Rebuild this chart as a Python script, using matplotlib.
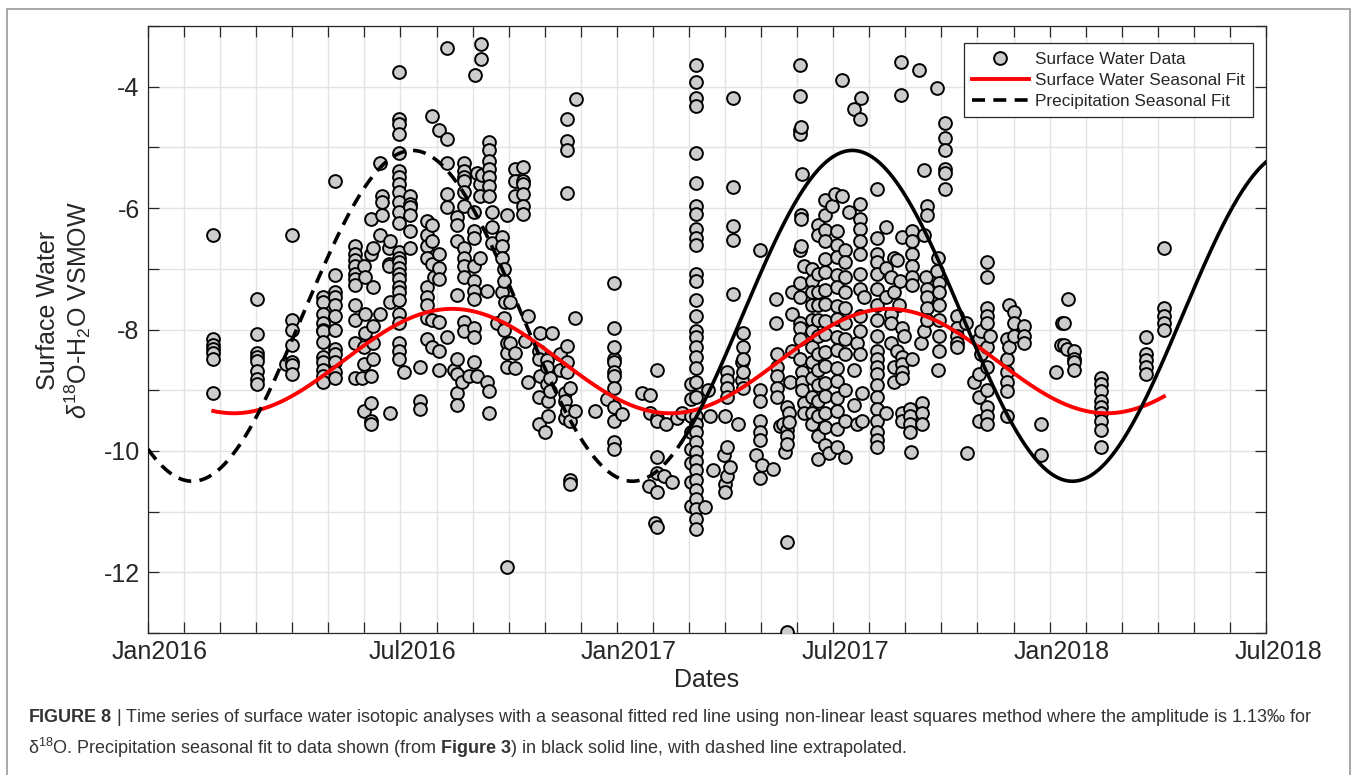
import numpy as np
import matplotlib.pyplot as plt
from matplotlib.patches import Rectangle
from matplotlib.transforms import ScaledTranslation

plt.rcParams['font.family'] = ['Liberation Sans', 'DejaVu Sans']
plt.rcParams['mathtext.fontset'] = 'custom'
plt.rcParams['mathtext.rm'] = 'Liberation Sans'
plt.rcParams['mathtext.it'] = 'Liberation Sans:italic'
plt.rcParams['mathtext.bf'] = 'Liberation Sans:bold'

# x is in axis tick units (one tick per month step, 0 = left edge of the axis)
tick_pos = [0, 7, 13, 19, 25, 31]
tick_labels = ['Jan2016', 'Jul2016', 'Jan2017', 'Jul2017', 'Jan2018', 'Jul2018']

# surface water d18O samples, grouped by sampling date
sample_x = [
    1.81, 3.01, 3.84, 3.98, 4.86, 5.19, 5.74, 5.93, 5.98, 6.02, 6.18, 6.25, 6.44, 6.49, 6.67, 6.72,
    6.95, 7.09, 7.27, 7.55, 7.74, 7.87, 7.92, 8.06, 8.29, 8.48, 8.57, 8.71, 8.75, 8.89, 9.03, 9.08,
    9.12, 9.21, 9.24, 9.26, 9.40, 9.45, 9.54, 9.68, 9.82, 9.86, 9.91, 9.96, 10.04, 10.19, 10.41, 10.46,
    10.55, 10.83, 10.87, 11.01, 11.06, 11.10, 11.15, 11.20, 11.43, 11.57, 11.61, 11.71, 11.83, 11.85,
    11.86, 12.40, 12.73, 12.91, 12.93, 13.14, 13.70, 13.88, 13.93, 14.07, 14.11, 14.30, 14.35, 14.53,
    14.67, 14.81, 15.05, 15.20, 15.45, 15.54, 15.59, 15.68, 15.96, 16.00, 16.05, 16.14, 16.22, 16.37,
    16.47, 16.51, 16.86, 16.96, 16.97, 17.02, 17.34, 17.42, 17.44, 17.53, 17.62, 17.67, 17.72, 17.76,
    17.81, 17.85, 18.09, 18.10, 18.11, 18.13, 18.18, 18.41, 18.59, 18.78, 18.87, 18.96, 19.06, 19.10,
    19.24, 19.34, 19.43, 19.57, 19.66, 19.73, 19.75, 19.77, 19.80, 19.84, 20.22, 20.45, 20.59, 20.68,
    20.77, 20.82, 20.86, 20.89, 20.91, 20.96, 21.14, 21.16, 21.19, 21.37, 21.42, 21.47, 21.51, 21.56,
    21.60, 21.88, 21.90, 21.91, 21.93, 22.11, 22.44, 22.67, 22.70, 22.90, 23.04, 23.09, 23.27, 23.36,
    23.83, 23.87, 24.01, 24.29, 24.75, 25.17, 25.31, 25.35, 25.41, 25.48, 25.50, 25.69, 26.43, 27.66,
    28.17,
]
sample_d18o = [
    [-6.44, -8.16, -8.25, -8.32, -8.38, -8.49, -9.05],
    [-7.50, -8.08, -8.38, -8.46, -8.52, -8.69, -8.81, -8.90],
    [-8.57],
    [-6.44, -7.85, -8.00, -8.25, -8.53, -8.59, -8.73],
    [-7.46, -7.55, -7.75, -7.90, -8.00, -8.03, -8.21, -8.46, -8.54, -8.67, -8.76, -8.86],
    [-5.56, -7.11, -7.39, -7.46, -7.59, -7.78, -8.00, -8.32, -8.41, -8.54, -8.70, -8.80],
    [-6.63, -6.76, -6.85, -6.95, -7.08, -7.17, -7.27, -7.59, -7.85, -8.22, -8.80],
    [-8.80],
    [-6.95, -8.29, -8.57, -9.34],
    [-7.14, -7.75, -8.06],
    [-6.18, -6.76, -8.76, -9.21, -9.50, -9.56],
    [-6.66, -7.30, -7.94, -8.22, -8.48],
    [-5.26, -6.44, -7.75],
    [-5.80, -5.90, -6.12],
    [-6.66, -6.92, -6.95],
    [-6.54, -7.55, -9.37],
    [-3.76, -4.53, -4.62, -4.78, -5.10, -5.39, -5.48, -5.61, -5.74, -5.90, -6.06, -6.25, -6.73,
     -6.82, -6.89, -6.98, -7.08, -7.17, -7.30, -7.39, -7.52, -7.75, -7.90, -8.22, -8.35, -8.48],
    [-8.70],
    [-5.80, -5.93, -5.99, -6.12, -6.38, -6.66],
    [-8.61, -9.18, -9.31],
    [-6.22, -6.44, -6.63, -6.82, -7.30, -7.46, -7.59, -7.81, -8.16],
    [-4.48, -6.28, -6.54, -6.92, -7.84, -8.29],
    [-7.14],
    [-4.72, -6.76, -6.98, -7.17, -7.87, -8.35, -8.67],
    [-3.36, -4.86, -5.26, -5.77, -5.99, -8.13],
    [-8.67],
    [-6.15, -6.28, -6.54, -7.43, -8.48, -8.73, -9.05, -9.24],
    [-8.86],
    [-5.26, -5.39, -5.48, -5.55, -5.74, -5.96, -6.66, -6.82, -6.95, -7.14, -7.87, -8.03],
    [-8.76],
    [-6.06, -6.38, -6.50, -6.95, -7.20, -7.36, -7.49, -7.97, -8.13, -8.54],
    [-3.81],
    [-5.42, -8.76],
    [-5.61, -5.80, -6.82],
    [-3.30, -3.55],
    [-5.45],
    [-7.36, -8.86],
    [-4.91, -5.04, -5.23, -5.36, -5.48, -5.64, -5.80, -9.02, -9.37],
    [-6.06, -6.31, -6.57],
    [-7.90],
    [-6.47, -6.63, -6.82, -7.39],
    [-7.01, -7.20, -7.81, -8.00],
    [-7.55],
    [-6.12, -8.22, -8.38, -8.61, -11.92],
    [-7.54, -8.22],
    [-5.36, -5.55, -5.80, -8.38, -8.64],
    [-5.32, -5.55, -5.61, -5.77, -5.96, -6.09],
    [-8.19],
    [-7.78, -8.86],
    [-8.35, -8.48, -9.11, -9.56],
    [-8.06, -8.76],
    [-9.69],
    [-8.51, -8.61, -8.89],
    [-9.18, -9.43],
    [-8.80, -9.02],
    [-8.06],
    [-8.41, -8.67],
    [-9.05, -9.18, -9.46],
    [-4.53, -4.90, -5.05, -5.75, -8.27, -8.54, -8.70, -9.34],
    [-8.96, -9.50, -10.48, -10.55],
    [-7.81],
    [-9.34],
    [-4.20],
    [-9.34],
    [-9.15],
    [-8.48, -9.50, -9.85, -9.97],
    [-7.24, -7.97, -8.29, -8.54, -8.70, -8.76, -8.96, -9.27],
    [-9.40],
    [-9.05],
    [-10.58],
    [-9.08, -9.37],
    [-11.18],
    [-8.67, -9.46, -9.50, -10.10, -10.36, -10.68, -11.25],
    [-10.42],
    [-9.56],
    [-10.52],
    [-9.46],
    [-9.37],
    [-8.89, -9.15, -9.43, -9.69, -9.97, -10.20, -10.52, -10.90],
    [-3.64, -3.92, -4.18, -4.31, -5.10, -5.58, -5.96, -6.09, -6.34, -6.50, -6.60, -7.08, -7.20,
     -7.52, -7.78, -8.03, -8.13, -8.29, -8.45, -8.64, -8.86, -9.11, -9.43, -9.56, -9.69, -9.85,
     -10.01, -10.17, -10.32, -10.48, -10.64, -10.80, -10.96, -11.12, -11.28],
    [-10.93],
    [-8.99],
    [-9.43],
    [-10.32],
    [-10.07],
    [-9.43, -10.55, -10.68],
    [-8.70, -8.83, -8.96, -9.11, -9.94, -10.42],
    [-10.26],
    [-4.18, -5.66, -6.30, -6.52, -7.41],
    [-9.56],
    [-8.54, -8.83],
    [-8.06, -8.29, -8.48, -8.70, -8.96],
    [-10.07],
    [-6.69, -10.45],
    [-8.99, -9.18, -9.50, -9.69, -9.82],
    [-10.23],
    [-10.29],
    [-7.49, -7.90],
    [-8.41, -8.61, -8.76, -8.96, -9.11],
    [-9.59],
    [-9.56],
    [-10.01],
    [-9.27, -9.66, -9.75, -9.88, -11.50, -12.99],
    [-9.37, -9.53],
    [-8.86],
    [-7.39, -7.75, -8.35],
    [-3.64, -4.15, -4.72, -4.78, -6.69, -7.24, -7.46, -7.90, -7.97, -8.16, -8.48],
    [-6.12, -6.18, -6.63],
    [-4.66],
    [-5.44, -8.70, -8.86, -8.99],
    [-6.95, -9.21, -9.37],
    [-7.01, -7.20, -7.39, -7.59, -7.84, -8.03, -8.29, -8.54, -8.80, -9.11, -9.37, -9.56],
    [-6.28, -6.44, -7.08, -7.39, -7.59, -7.84, -8.10, -8.41, -8.67, -8.92, -9.18, -9.43, -9.75, -10.13],
    [-5.87, -6.12, -6.36, -6.55, -6.84, -7.05, -7.35, -7.58, -7.86, -8.08, -8.37, -8.60, -8.88,
     -9.10, -9.38, -9.60, -9.90],
    [-10.04],
    [-5.96],
    [-5.77],
    [-6.38, -6.60, -6.80, -7.10, -7.30, -7.62, -7.82, -8.12, -8.33, -8.63, -8.85, -9.13, -9.35, -9.64, -9.94],
    [-3.89, -5.80],
    [-6.69, -6.89, -7.14, -7.39, -7.65, -7.90, -8.16, -8.41, -8.99, -9.50, -10.10],
    [-6.06],
    [-4.37, -8.67, -9.24],
    [-8.22, -9.56],
    [-4.53],
    [-5.93, -6.18, -6.34, -6.54, -6.76, -7.08, -7.33, -7.78, -8.03, -8.41],
    [-4.18],
    [-9.05, -9.50],
    [-7.46],
    [-5.68, -6.50, -6.76, -6.89, -7.08, -7.33, -7.59, -7.84, -8.10, -8.35, -8.48, -8.61, -8.73,
     -8.92, -9.11, -9.31, -9.50, -9.69, -9.82, -9.94],
    [-6.31, -6.98, -7.46, -9.37],
    [-7.14, -7.75, -7.90, -8.22],
    [-6.82, -7.39, -8.61, -8.86],
    [-6.85, -8.35],
    [-7.59],
    [-7.20],
    [-3.59, -4.13],
    [-6.47, -7.97, -8.45, -8.57, -8.70, -8.80, -9.37, -9.50],
    [-8.10],
    [-9.31, -9.43, -9.56, -9.69],
    [-10.01],
    [-6.38, -6.54, -6.76, -6.95, -7.14, -7.27, -8.48],
    [-3.73],
    [-8.22],
    [-9.21, -9.37, -9.56],
    [-5.38, -6.44, -8.03],
    [-7.14],
    [-5.96, -6.12, -7.33, -7.46, -7.65, -7.84],
    [-4.02, -7.04],
    [-6.82],
    [-8.67],
    [-7.24, -7.39, -7.59, -7.84, -8.10, -8.35],
    [-4.59, -4.85, -5.04, -5.36, -5.42, -5.68],
    [-7.78, -7.97, -8.10, -8.22, -8.29],
    [-7.90],
    [-10.04],
    [-8.86],
    [-8.16, -8.73, -9.11, -9.50],
    [-8.03, -8.41],
    [-6.89, -7.14, -7.65, -7.78, -7.90, -8.29, -8.61, -8.99, -9.27, -9.43, -9.56],
    [-8.10],
    [-8.16, -8.48, -8.70, -8.86, -9.02, -9.43],
    [-7.59, -8.29],
    [-7.71, -7.90, -8.10],
    [-7.94, -8.10, -8.22],
    [-9.56, -10.07],
    [-8.70],
    [-8.25],
    [-7.90],
    [-7.89, -8.25],
    [-8.32],
    [-7.50],
    [-8.35, -8.48, -8.54, -8.67],
    [-8.80, -8.89, -9.02, -9.18, -9.27, -9.37, -9.50, -9.66, -9.94],
    [-8.13, -8.41, -8.51, -8.61, -8.73],
    [-6.65, -7.65, -7.78, -7.90, -8.00],
]

# seasonal sine fits: mean, half range, time of peak, period, start, end
sw_fit = {'mean': -8.52, 'amp': 0.86, 'peak': 8.43, 'period': 12.1, 'start': 1.81, 'end': 28.17}
precip_fit = {'mean': -7.775, 'amp': 2.725, 'peak': 7.33, 'period': 12.2, 'start': 0.0, 'end': 31.0}
precip_measured_from = 14.8   # solid (fitted) part starts here, dashed before = extrapolated


def seasonal(p, x):
    return p['mean'] + p['amp'] * np.cos(2 * np.pi * (x - p['peak']) / p['period'])


xs, ys = [], []
for x, vals in zip(sample_x, sample_d18o):
    xs += [x] * len(vals)
    ys += vals

fig = plt.figure(figsize=(13.57, 7.75), dpi=100)
ax = fig.add_axes([148 / 1357, 1 - 633 / 775, (1266 - 148) / 1357, (633 - 26) / 775])

ax.plot(xs, ys, 'o', ls='none', ms=9.2, mfc='#cccccc', mec='black', mew=1.4,
        label='Surface Water Data', zorder=3)

t = np.linspace(sw_fit['start'], sw_fit['end'], 500)
ax.plot(t, seasonal(sw_fit, t), color='#ff0000', lw=2.8, label='Surface Water Seasonal Fit', zorder=4)

t = np.linspace(precip_fit['start'], precip_measured_from, 300)
ax.plot(t, seasonal(precip_fit, t), color='black', lw=2.6, ls=(0, (3.6, 2.3)),
        label='Precipitation Seasonal Fit', zorder=4)
t = np.linspace(precip_measured_from, precip_fit['end'], 500)
ax.plot(t, seasonal(precip_fit, t), color='black', lw=2.6, zorder=4)

ax.set_xlim(0, 31)
ax.set_ylim(-13, -3)
ax.set_xticks(np.arange(0, 32))
ax.set_xticklabels([tick_labels[tick_pos.index(i)] if i in tick_pos else '' for i in range(32)])
ax.set_yticks(np.arange(-13, -2))
ax.set_yticklabels([str(v) if v % 2 == 0 else '' for v in range(-13, -2)])

ax.grid(True, color='#e3e3e3', lw=1.0)
ax.set_axisbelow(True)
ax.tick_params(direction='in', length=8, width=0.9, color='#262626', labelcolor='#262626',
               labelsize=18, top=True, right=True)
ax.tick_params(axis='y', pad=6)
ax.tick_params(axis='x', pad=5)
for s in ax.spines.values():
    s.set_color('#262626')
    s.set_linewidth(0.9)
for lab in ax.get_xticklabels():
    lab.set_transform(lab.get_transform() + ScaledTranslation(12 / 100, 0, fig.dpi_scale_trans))

ax.set_xlabel('Dates', fontsize=18, color='#262626')
ax.xaxis.set_label_coords(0.5, -0.057)
ax.set_ylabel('Surface Water\n$\\delta^{18}$O-H$_2$O VSMOW', fontsize=18, color='#262626',
              linespacing=1.1)
ax.yaxis.set_label_coords(-0.049, 0.532)

leg = ax.legend(loc='upper right', bbox_to_anchor=(1253 / 1357, 1 - 43 / 775),
                bbox_transform=fig.transFigure, fontsize=12.3, frameon=True, fancybox=False,
                framealpha=1, edgecolor='#262626', handlelength=3.3, handletextpad=0.35,
                labelspacing=0.36, borderpad=0.5, borderaxespad=0)
leg.get_frame().set_linewidth(0.9)
for txt in leg.get_texts():
    txt.set_color('#262626')

# outer caption frame
fig.add_artist(Rectangle((7 / 1357, -0.05), (1350 - 7) / 1357, 1.05 - 9 / 775, transform=fig.transFigure,
                         fill=False, edgecolor='#9a9a9a', lw=1.2, clip_on=False))

fig.text(28 / 1357, 1 - 718 / 775,
         r'$\mathbf{FIGURE\ 8}$ | Time series of surface water isotopic analyses with a seasonal fitted red '
         r'line using non-linear least squares method where the amplitude is 1.13‰ for',
         fontsize=13.0, color='#333333', va='center', ha='left')
fig.text(28 / 1357, 1 - 748 / 775,
         r'δ$^{18}$O. Precipitation seasonal fit to data shown (from $\mathbf{Figure\ 3}$) in black '
         r'solid line, with dashed line extrapolated.',
         fontsize=13.0, color='#333333', va='center', ha='left')

fig.savefig('out.png', dpi=100)
